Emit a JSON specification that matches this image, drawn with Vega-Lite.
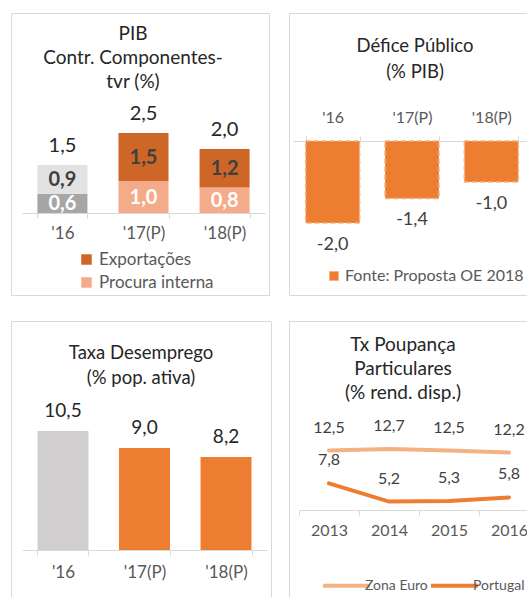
{
  "$schema": "https://vega.github.io/schema/vega-lite/v6.json",
  "background": "white",
  "padding": {"left": 10, "top": 12, "right": 0, "bottom": 0},
  "config": {
    "font": "Lato",
    "view": {"stroke": "#d9d9d9", "strokeWidth": 1},
    "axis": {"labelFont": "Lato", "labelColor": "#595959", "domainColor": "#d9d9d9", "tickColor": "#d9d9d9", "grid": false, "labelAngle": 0},
    "title": {"font": "Lato", "fontWeight": "normal", "color": "#262626", "anchor": "middle", "frame": "group", "baseline": "top"},
    "legend": {"labelFont": "Lato", "labelColor": "#595959", "padding": 0, "labelLimit": 400},
    "locale": {"number": {"decimal": ",", "thousands": ".", "grouping": [3], "currency": ["", " €"], "minus": "-"}}
  },
  "resolve": {"scale": {"color": "independent"}, "legend": {"color": "independent"}},
  "vconcat": [
    {
      "resolve": {"scale": {"color": "independent"}, "legend": {"color": "independent"}},
      "hconcat": [
        {
          "width": 258,
          "height": 282,
          "title": {"text": ["PIB", "Contr. Componentes-", "tvr (%)"], "fontSize": 19, "lineHeight": 24, "offset": -79, "dx": -7},
          "data": {"values": [
            {"ano": "'16", "comp": "Procura interna", "serie": "Procura interna '16", "v": 0.6},
            {"ano": "'16", "comp": "Exportações", "serie": "Exportações '16", "v": 0.9},
            {"ano": "'17(P)", "comp": "Procura interna", "serie": "Procura interna", "v": 1.0},
            {"ano": "'17(P)", "comp": "Exportações", "serie": "Exportações", "v": 1.5},
            {"ano": "'18(P)", "comp": "Procura interna", "serie": "Procura interna", "v": 0.8},
            {"ano": "'18(P)", "comp": "Exportações", "serie": "Exportações", "v": 1.2}
          ]},
          "encoding": {
            "x": {"field": "ano", "type": "nominal", "sort": null, "title": null,
              "scale": {"range": [11, 254], "paddingInner": 0.383, "paddingOuter": 0.19},
              "axis": {"orient": "bottom", "offset": -82, "tickBand": "extent", "tickSize": 5, "labelPadding": 7, "labelFontSize": 17}}
          },
          "layer": [
            {
              "mark": {"type": "bar"},
              "encoding": {
                "y": {"field": "v", "type": "quantitative", "stack": "zero", "scale": {"domain": [-2.5625, 6.25], "nice": false, "zero": false}, "axis": null},
                "color": {"field": "serie", "type": "nominal",
                  "scale": {"domain": ["Exportações", "Procura interna", "Exportações '16", "Procura interna '16"], "range": ["#cd6627", "#f4ab8a", "#e2e2e2", "#a6a6a6"]},
                  "legend": {"values": ["Exportações", "Procura interna"], "orient": "none", "direction": "vertical", "legendX": 67, "legendY": 238, "title": null, "symbolType": "square", "symbolSize": 110, "labelFontSize": 17, "rowPadding": 5, "labelOffset": 4}},
                "order": {"field": "comp", "sort": "descending"}
              }
            },
            {
              "transform": [
                {"stack": "v", "groupby": ["ano"], "sort": [{"field": "comp", "order": "descending"}], "as": ["y0", "y1"]},
                {"calculate": "(datum.y0 + datum.y1) / 2", "as": "mid"}
              ],
              "mark": {"type": "text", "fontWeight": "bold", "fontSize": 20, "baseline": "middle", "dy": 1},
              "encoding": {
                "y": {"field": "mid", "type": "quantitative", "axis": null},
                "text": {"field": "v", "type": "quantitative", "format": ".1f"},
                "color": {"condition": {"test": "datum.comp === 'Procura interna'", "value": "#ffffff"}, "value": "#404040"}
              }
            },
            {
              "transform": [{"aggregate": [{"op": "sum", "field": "v", "as": "tot"}], "groupby": ["ano"]}],
              "mark": {"type": "text", "fontSize": 20, "dy": -19, "color": "#262626", "baseline": "middle"},
              "encoding": {
                "y": {"field": "tot", "type": "quantitative", "axis": null},
                "text": {"field": "tot", "type": "quantitative", "format": ".1f"}
              }
            }
          ]
        },
        {
          "width": 252,
          "height": 282,
          "title": {"text": ["Défice Público", "(% PIB)"], "fontSize": 18.5, "lineHeight": 26, "offset": -68},
          "data": {"values": [
            {"ano": "'16", "serie": "Fonte: Proposta OE 2018", "v": -2.0},
            {"ano": "'17(P)", "serie": "Fonte: Proposta OE 2018", "v": -1.4},
            {"ano": "'18(P)", "serie": "Fonte: Proposta OE 2018", "v": -1.0}
          ]},
          "encoding": {
            "x": {"field": "ano", "type": "nominal", "sort": null, "title": null,
              "scale": {"range": [4, 242], "paddingInner": 0.32, "paddingOuter": 0.16},
              "axis": {"orient": "top", "offset": -128, "tickBand": "extent", "tickSize": 5, "labelPadding": 11, "labelFontSize": 16}}
          },
          "layer": [
            {
              "mark": {"type": "bar", "stroke": "#f4b183", "strokeWidth": 1.5, "strokeDash": [5, 3]},
              "encoding": {
                "y": {"field": "v", "type": "quantitative", "scale": {"domain": [-3.756, 3.122], "nice": false, "zero": false}, "axis": null},
                "color": {"field": "serie", "type": "nominal", "scale": {"domain": ["Fonte: Proposta OE 2018"], "range": ["#ed7d31"]},
                  "legend": {"orient": "none", "legendX": 37, "legendY": 255, "title": null, "symbolType": "square", "symbolSize": 80, "labelFontSize": 16, "labelOffset": 3, "symbolStrokeColor": "#f4b183", "symbolStrokeWidth": 1}}
              }
            },
            {
              "mark": {"type": "text", "fontSize": 18, "dy": 22, "color": "#404040", "baseline": "middle"},
              "encoding": {
                "y": {"field": "v", "type": "quantitative", "axis": null},
                "text": {"field": "v", "type": "quantitative", "format": ".1f"}
              }
            }
          ]
        }
      ],
      "spacing": 18
    },
    {
      "resolve": {"scale": {"color": "independent"}, "legend": {"color": "independent"}},
      "hconcat": [
        {
          "width": 260,
          "height": 290,
          "title": {"text": ["Taxa Desemprego", "(% pop. ativa)"], "fontSize": 18.5, "lineHeight": 25, "offset": -66},
          "data": {"values": [
            {"ano": "'16", "v": 10.5},
            {"ano": "'17(P)", "v": 9.0},
            {"ano": "'18(P)", "v": 8.2}
          ]},
          "encoding": {
            "x": {"field": "ano", "type": "nominal", "sort": null, "title": null,
              "scale": {"range": [11, 256], "paddingInner": 0.375, "paddingOuter": 0.19},
              "axis": {"orient": "bottom", "offset": -61, "tickBand": "extent", "tickSize": 5, "labelPadding": 9, "labelFontSize": 17}}
          },
          "layer": [
            {
              "mark": {"type": "bar"},
              "encoding": {
                "y": {"field": "v", "type": "quantitative", "scale": {"domain": [-5.38, 20.21], "nice": false, "zero": false}, "axis": null},
                "color": {"field": "ano", "type": "nominal", "scale": {"domain": ["'16", "'17(P)", "'18(P)"], "range": ["#d0cece", "#ed7d31", "#ed7d31"]}, "legend": null}
              }
            },
            {
              "mark": {"type": "text", "fontSize": 19, "dy": -20, "color": "#262626", "baseline": "middle"},
              "encoding": {
                "y": {"field": "v", "type": "quantitative", "axis": null},
                "text": {"field": "v", "type": "quantitative", "format": ".1f"}
              }
            }
          ]
        },
        {
          "width": 252,
          "height": 292,
          "title": {"text": ["Tx Poupança", "Particulares", "(% rend. disp.)"], "fontSize": 19, "lineHeight": 24, "offset": -82, "dx": -12},
          "data": {"values": [
            {"ano": "2013", "serie": "Zona Euro", "v": 12.5},
            {"ano": "2014", "serie": "Zona Euro", "v": 12.7},
            {"ano": "2015", "serie": "Zona Euro", "v": 12.5},
            {"ano": "2016", "serie": "Zona Euro", "v": 12.2},
            {"ano": "2013", "serie": "Portugal", "v": 7.8},
            {"ano": "2014", "serie": "Portugal", "v": 5.2},
            {"ano": "2015", "serie": "Portugal", "v": 5.3},
            {"ano": "2016", "serie": "Portugal", "v": 5.8}
          ]},
          "encoding": {
            "x": {"field": "ano", "type": "nominal", "sort": null, "title": null,
              "scale": {"type": "band", "range": [10, 250], "paddingInner": 0, "paddingOuter": 0},
              "axis": {"orient": "bottom", "offset": -103, "tickBand": "extent", "tickSize": 5, "labelPadding": 7, "labelFontSize": 16}},
            "y": {"field": "v", "type": "quantitative", "scale": {"domain": [-10.71, 31.0], "nice": false, "zero": false}, "axis": null}
          },
          "layer": [
            {
              "mark": {"type": "line", "strokeWidth": 4, "strokeCap": "round"},
              "encoding": {
                "color": {"field": "serie", "type": "nominal", "scale": {"domain": ["Zona Euro", "Portugal"], "range": ["#f4b183", "#ed7d31"]},
                  "legend": {"orient": "none", "direction": "horizontal", "legendX": 32, "legendY": 239, "title": null, "symbolType": "stroke", "symbolSize": 2200, "symbolStrokeWidth": 4, "labelFontSize": 14, "labelOffset": -7, "columnPadding": -5}}
              }
            },
            {
              "mark": {"type": "text", "fontSize": 16, "dy": -23, "color": "#404040", "baseline": "middle"},
              "encoding": {
                "text": {"field": "v", "type": "quantitative", "format": ".1f"}
              }
            }
          ]
        }
      ],
      "spacing": 16
    }
  ],
  "spacing": 24
}
